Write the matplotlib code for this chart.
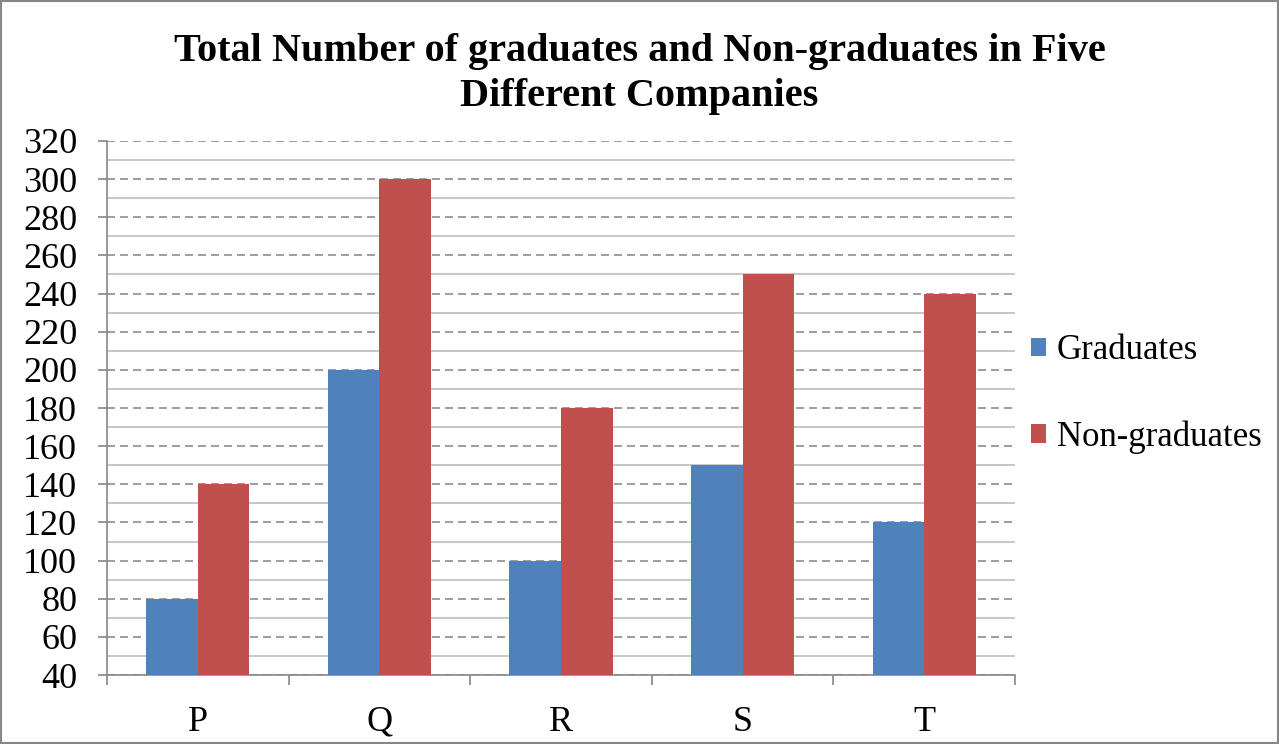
import matplotlib
matplotlib.use("Agg")
import matplotlib.pyplot as plt
import numpy as np
from matplotlib.patches import Rectangle

companies = ["P", "Q", "R", "S", "T"]
graduates = [80, 200, 100, 150, 120]
non_graduates = [140, 300, 180, 250, 240]
y_ticks = list(range(40, 321, 20))

blue = "#4F81BD"
red = "#C0504D"
axis_grey = "#868686"

plt.rcParams["font.family"] = ["Liberation Serif", "DejaVu Serif"]

fig = plt.figure(figsize=(12.79, 7.44), dpi=100)
ax = fig.add_axes([0.0837, 0.0927, 0.7099, 0.7178])

x = np.arange(len(companies))
w = 0.284
ax.bar(x - w / 2, graduates, w, color=blue, label="Graduates", zorder=3)
ax.bar(x + w / 2, non_graduates, w, color=red, label="Non-graduates", zorder=3)

ax.set_xlim(-0.5, len(companies) - 0.5)
ax.set_ylim(40, 320)
ax.set_yticks(y_ticks)
ax.set_yticks(range(50, 320, 20), minor=True)
ax.tick_params(axis="y", which="major", labelsize=26, length=6.5, color=axis_grey, width=1.2, pad=15)
ax.tick_params(axis="y", which="minor", length=0)
ax.set_xticks(x)
ax.set_xticklabels(companies)
ax.tick_params(axis="x", which="major", labelsize=26, length=0, pad=22)
ax.set_xticks(np.arange(len(companies) + 1) - 0.5, minor=True)
ax.tick_params(axis="x", which="minor", length=7, color=axis_grey, width=1.2)

# dashed darker major lines, solid light minor lines (Excel style)
ax.grid(axis="y", which="major", linestyle=(0, (4.8, 3)), color="#8c8c8c", linewidth=1.2, zorder=0)
ax.grid(axis="y", which="minor", linestyle="-", color="#bdbdbd", linewidth=1.2, zorder=0)

for side in ["top", "right"]:
    ax.spines[side].set_visible(False)
for side in ["left", "bottom"]:
    ax.spines[side].set_color(axis_grey)
    ax.spines[side].set_linewidth(1.2)

fig.suptitle("Total Number of graduates and Non-graduates in Five\nDifferent Companies",
             fontsize=29, fontweight="bold", y=0.956, linespacing=1.3)

leg = fig.legend(loc="center left", bbox_to_anchor=(0.806, 0.4704), frameon=False,
                 fontsize=25, handlelength=0.44, handleheight=0.44, handletextpad=0.3,
                 labelspacing=1.53, borderaxespad=0, borderpad=0)

fig.patches.append(Rectangle((0.001, 0.001), 0.998, 0.998, transform=fig.transFigure,
                             fill=False, edgecolor=axis_grey, linewidth=1.5))

fig.savefig("out.png", dpi=100)
